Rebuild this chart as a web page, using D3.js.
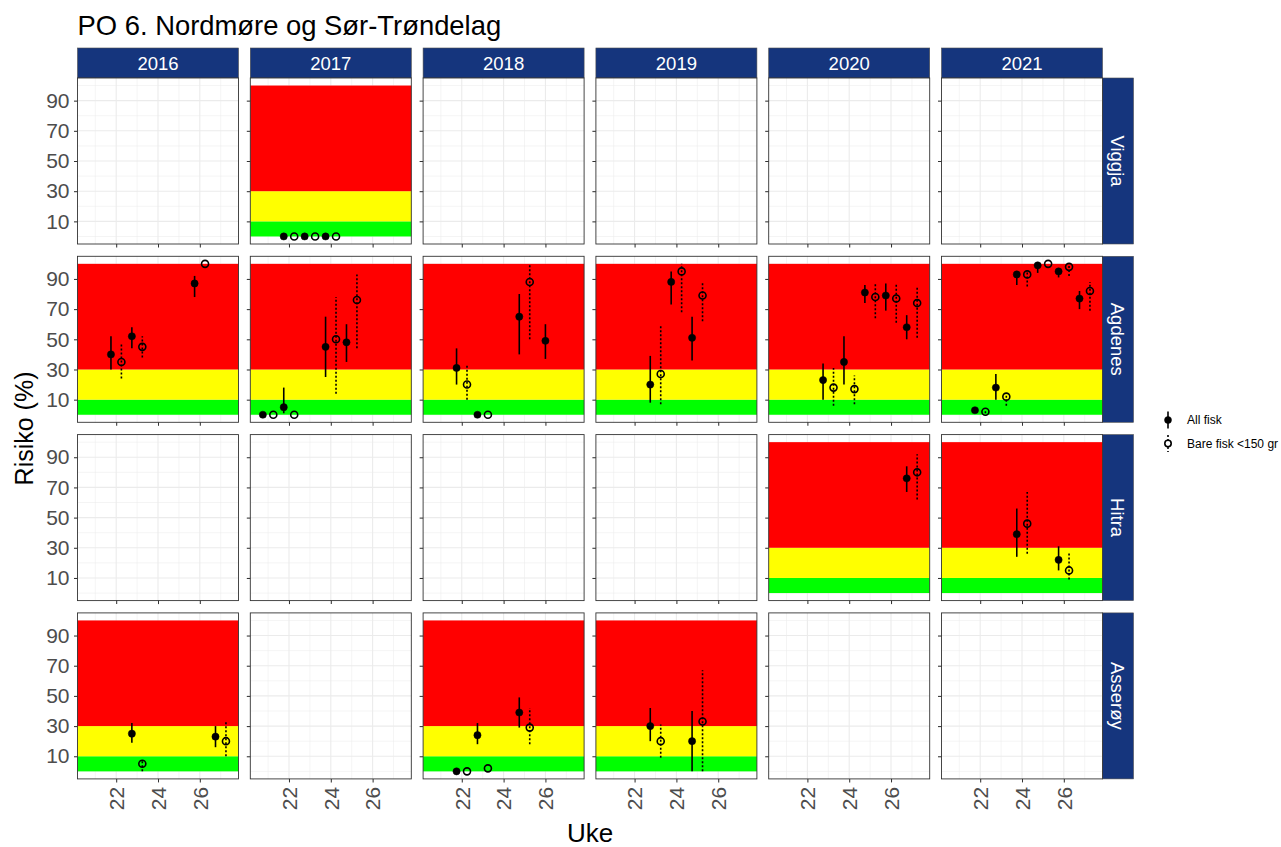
<!DOCTYPE html>
<html>
<head>
<meta charset="utf-8">
<script src="https://cdn.jsdelivr.net/npm/d3@7"></script>
<style>
  body { margin: 0; background: #ffffff; }
  svg { display: block; font-family: "Liberation Sans", Arial, sans-serif; }
</style>
</head>
<body>
<svg id="chart" width="1281" height="847"></svg>
<script>
// ---- data ---------------------------------------------------------------
const years = [2016, 2017, 2018, 2019, 2020, 2021];
const sites = ["Viggja", "Agdenes", "Hitra", "Asserøy"];
const groups = ["All fisk", "Bare fisk <150 gr"];
const yTicks = [10, 30, 50, 70, 90];
const xTicks = [22, 24, 26];
const yMinor = [0, 20, 40, 60, 80, 100];
const xMinor = [21, 23, 25, 27];
// risk zones: [from, to, colour]
const zones = [[0, 10, "#00FF00"], [10, 30, "#FFFF00"], [30, 100, "#FF0000"]];

// records: [year, week, group index, risk, low, high]
const viggja = [
  [2017, 22, 0, 0, 0, 0], [2017, 22, 1, 0, 0, 0],
  [2017, 23, 0, 0, 0, 0], [2017, 23, 1, 0, 0, 0],
  [2017, 24, 0, 0, 0, 0], [2017, 24, 1, 0, 0, 0]
];
const agdenes = [
  [2016, 22, 0, 40, 30, 52], [2016, 22, 1, 35, 24, 47],
  [2016, 23, 0, 52, 44, 58], [2016, 23, 1, 45, 38, 52],
  [2016, 26, 0, 87, 78, 92], [2016, 26, 1, 100, 100, 100],
  [2017, 21, 0, 0, 0, 0], [2017, 21, 1, 0, 0, 0],
  [2017, 22, 0, 5, 1, 18], [2017, 22, 1, 0, 0, 0],
  [2017, 24, 0, 45, 25, 65], [2017, 24, 1, 50, 14, 78],
  [2017, 25, 0, 48, 35, 60], [2017, 25, 1, 76, 44, 93],
  [2018, 22, 0, 31, 20, 44], [2018, 22, 1, 20, 10, 33],
  [2018, 23, 0, 0, 0, 0], [2018, 23, 1, 0, 0, 0],
  [2018, 25, 0, 65, 40, 80], [2018, 25, 1, 88, 50, 100],
  [2018, 26, 0, 49, 37, 60],
  [2019, 23, 0, 20, 8, 39], [2019, 23, 1, 27, 7, 60],
  [2019, 24, 0, 88, 73, 95], [2019, 24, 1, 95, 68, 100],
  [2019, 25, 0, 51, 36, 65], [2019, 25, 1, 79, 62, 88],
  [2020, 23, 0, 23, 10, 34], [2020, 23, 1, 18, 6, 31],
  [2020, 24, 0, 35, 20, 52], [2020, 24, 1, 17, 7, 26],
  [2020, 25, 0, 81, 74, 86], [2020, 25, 1, 78, 64, 87],
  [2020, 26, 0, 79, 69, 87], [2020, 26, 1, 77, 61, 87],
  [2020, 27, 0, 58, 50, 66], [2020, 27, 1, 74, 51, 85],
  [2021, 22, 0, 3, 2, 4], [2021, 22, 1, 2, 1, 3],
  [2021, 23, 0, 18, 10, 27], [2021, 23, 1, 12, 6, 14],
  [2021, 24, 0, 93, 86, 95], [2021, 24, 1, 93, 85, 96],
  [2021, 25, 0, 99, 94, 100], [2021, 25, 1, 100, 100, 100],
  [2021, 26, 0, 95, 91, 97], [2021, 26, 1, 98, 92, 100],
  [2021, 27, 0, 77, 70, 82], [2021, 27, 1, 82, 69, 88]
];
const hitra = [
  [2020, 27, 0, 76, 67, 84], [2020, 27, 1, 80, 62, 92],
  [2021, 24, 0, 39, 24, 56], [2021, 24, 1, 46, 26, 67],
  [2021, 26, 0, 22, 15, 31], [2021, 26, 1, 15, 9, 27]
];
const asseroy = [
  [2016, 23, 0, 25, 19, 32], [2016, 23, 1, 5, 0, 8],
  [2016, 27, 0, 23, 16, 30], [2016, 27, 1, 20, 10, 33],
  [2018, 22, 0, 0, 0, 0], [2018, 22, 1, 0, 0, 0],
  [2018, 23, 0, 24, 18, 32], [2018, 23, 1, 2, 2, 2],
  [2018, 25, 0, 39, 29, 49], [2018, 25, 1, 29, 18, 42],
  [2019, 23, 0, 30, 20, 42], [2019, 23, 1, 20, 9, 31],
  [2019, 25, 0, 20, 0, 40], [2019, 25, 1, 33, 0, 67]
];
const siteData = { "Viggja": viggja, "Agdenes": agdenes, "Hitra": hitra, "Asserøy": asseroy };

// ---- layout -------------------------------------------------------------
const left0 = 77.5, top0 = 78;
const PW = 161, PH = 166;
const stepX = 172.8, stepY = 178.3;
const stripH = 30, stripW = 31;
const stripFill = "#15357D";
const tickLen = 3.5;
const dodge = 0.25;

const svg = d3.select("#chart");
svg.append("rect").attr("width", 1281).attr("height", 847).attr("fill", "#ffffff");

const x = d3.scaleLinear().domain([20.15, 27.85]).range([0, PW]);
const y = d3.scaleLinear().domain([-5, 105]).range([PH, 0]);

// title
svg.append("text")
  .attr("x", 77.5).attr("y", 35)
  .attr("font-size", 27.4).attr("fill", "#000")
  .text("PO 6. Nordmøre og Sør-Trøndelag");

// column strips
years.forEach((yr, c) => {
  const sx = left0 + c * stepX;
  svg.append("rect")
    .attr("x", sx).attr("y", top0 - stripH).attr("width", PW).attr("height", stripH)
    .attr("fill", stripFill).attr("stroke", "#4d4d4d").attr("stroke-width", 0.6);
  svg.append("text")
    .attr("x", sx + PW / 2).attr("y", top0 - stripH / 2).attr("dy", "0.36em")
    .attr("text-anchor", "middle").attr("font-size", 18.5).attr("fill", "#ffffff")
    .text(yr);
});

// row strips
sites.forEach((site, r) => {
  const sy = top0 + r * stepY;
  const sx = left0 + (years.length - 1) * stepX + PW;
  svg.append("rect")
    .attr("x", sx).attr("y", sy).attr("width", stripW).attr("height", PH)
    .attr("fill", stripFill).attr("stroke", "#4d4d4d").attr("stroke-width", 0.6);
  svg.append("text")
    .attr("transform", `translate(${sx + stripW / 2},${sy + PH / 2}) rotate(90)`)
    .attr("dy", "0.36em")
    .attr("text-anchor", "middle").attr("font-size", 18.5).attr("fill", "#ffffff")
    .text(site);
});

// panels
sites.forEach((site, r) => {
  const rows = siteData[site];
  years.forEach((yr, c) => {
    const px = left0 + c * stepX, py = top0 + r * stepY;
    const g = svg.append("g").attr("transform", `translate(${px},${py})`);
    const recs = rows.filter(d => d[0] === yr);

    g.append("rect").attr("width", PW).attr("height", PH).attr("fill", "#ffffff");

    // grid
    g.selectAll(".gxm").data(xMinor).join("line")
      .attr("x1", d => x(d)).attr("x2", d => x(d)).attr("y1", 0).attr("y2", PH)
      .attr("stroke", "#EBEBEB").attr("stroke-width", 0.55);
    g.selectAll(".gym").data(yMinor).join("line")
      .attr("y1", d => y(d)).attr("y2", d => y(d)).attr("x1", 0).attr("x2", PW)
      .attr("stroke", "#EBEBEB").attr("stroke-width", 0.55);
    g.selectAll(".gx").data(xTicks).join("line")
      .attr("x1", d => x(d)).attr("x2", d => x(d)).attr("y1", 0).attr("y2", PH)
      .attr("stroke", "#EBEBEB").attr("stroke-width", 1.1);
    g.selectAll(".gy").data(yTicks).join("line")
      .attr("y1", d => y(d)).attr("y2", d => y(d)).attr("x1", 0).attr("x2", PW)
      .attr("stroke", "#EBEBEB").attr("stroke-width", 1.1);

    if (recs.length) {
      // risk zones across the full panel width
      g.selectAll(".zone").data(zones).join("rect")
        .attr("x", 0).attr("width", PW)
        .attr("y", d => y(d[1])).attr("height", d => y(d[0]) - y(d[1]))
        .attr("fill", d => d[2]);

      // dodged positions: two groups in one week are pushed apart
      const pos = recs.map(d => {
        const n = recs.filter(e => e[1] === d[1]).length;
        const off = n > 1 ? (d[2] === 0 ? -dodge : dodge) : 0;
        return { wk: d[1] + off, grp: d[2], v: d[3], lo: d[4], hi: d[5] };
      });

      g.selectAll(".err").data(pos).join("line")
        .attr("x1", d => x(d.wk)).attr("x2", d => x(d.wk))
        .attr("y1", d => y(d.lo)).attr("y2", d => y(d.hi))
        .attr("stroke", "#000").attr("stroke-width", 1.6)
        .attr("stroke-dasharray", d => d.grp === 0 ? null : "2,2");

      g.selectAll(".pt").data(pos).join("circle")
        .attr("cx", d => x(d.wk)).attr("cy", d => y(d.v))
        .attr("r", d => d.grp === 0 ? 3.6 : 3.5)
        .attr("fill", d => d.grp === 0 ? "#000" : "none")
        .attr("stroke", "#000").attr("stroke-width", d => d.grp === 0 ? 0.5 : 1.6);
    }

    g.append("rect").attr("width", PW).attr("height", PH)
      .attr("fill", "none").attr("stroke", "#333333").attr("stroke-width", 0.9);

    // axes: ticks on every panel, labels on outer panels only
    const ya = g.append("g").call(
      d3.axisLeft(y).tickValues(yTicks).tickSize(tickLen).tickPadding(4.5)
        .tickFormat(c === 0 ? d3.format("d") : () => ""));
    ya.select(".domain").remove();
    ya.selectAll("line").attr("stroke", "#333333").attr("stroke-width", 1.05);
    ya.selectAll("text").attr("font-size", 21).attr("fill", "#4D4D4D")
      .attr("font-family", "Liberation Sans, Arial, sans-serif");

    const xa = g.append("g").attr("transform", `translate(0,${PH})`).call(
      d3.axisBottom(x).tickValues(xTicks).tickSize(tickLen)
        .tickFormat(r === sites.length - 1 ? d3.format("d") : () => ""));
    xa.select(".domain").remove();
    xa.selectAll("line").attr("stroke", "#333333").attr("stroke-width", 1.05);
    xa.selectAll("text")
      .attr("font-size", 21).attr("fill", "#4D4D4D")
      .attr("font-family", "Liberation Sans, Arial, sans-serif")
      .attr("transform", "rotate(-90)")
      .attr("text-anchor", "end")
      .attr("x", -(tickLen + 4.5)).attr("y", 0).attr("dy", "0.35em");
  });
});

// axis titles
const plotBottom = top0 + (sites.length - 1) * stepY + PH;
const plotRight = left0 + (years.length - 1) * stepX + PW;
svg.append("text")
  .attr("transform", `translate(33,${(top0 + plotBottom) / 2}) rotate(-90)`)
  .attr("text-anchor", "middle").attr("font-size", 25).attr("fill", "#000")
  .text("Risiko (%)");
svg.append("text")
  .attr("x", (left0 + plotRight) / 2).attr("y", 841.5)
  .attr("text-anchor", "middle").attr("font-size", 26).attr("fill", "#000")
  .text("Uke");

// legend
const lg = svg.append("g").attr("transform", "translate(1168,420)");
groups.forEach((name, i) => {
  const k = lg.append("g").attr("transform", `translate(0,${i * 23.5})`);
  k.append("line").attr("x1", 0).attr("x2", 0).attr("y1", -8.5).attr("y2", 8.5)
    .attr("stroke", "#000").attr("stroke-width", 1.6)
    .attr("stroke-dasharray", i === 0 ? null : "2,2");
  k.append("circle").attr("r", i === 0 ? 3.5 : 3.2)
    .attr("fill", i === 0 ? "#000" : "#fff").attr("stroke", "#000")
    .attr("stroke-width", i === 0 ? 0.5 : 1.6);
  k.append("text").attr("x", 19).attr("dy", "0.35em")
    .attr("font-size", 12).attr("fill", "#000").text(name);
});
</script>
</body>
</html>
